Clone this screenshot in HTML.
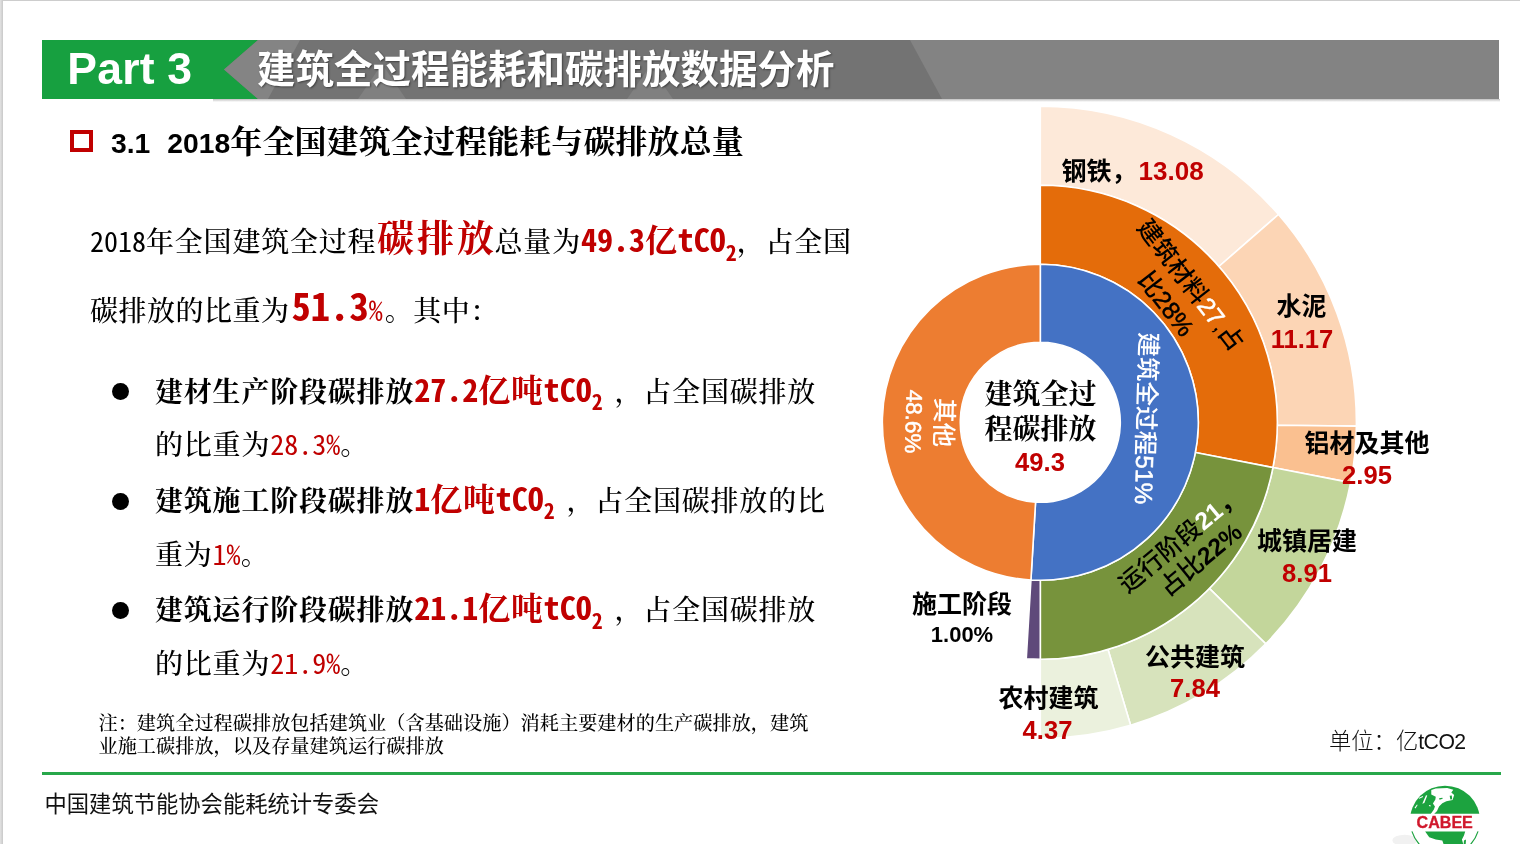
<!DOCTYPE html>
<html lang="zh-CN"><head><meta charset="utf-8"><title>建筑全过程能耗和碳排放数据分析</title>
<style>
html,body{margin:0;padding:0;background:#fff;}
body{width:1520px;height:844px;position:relative;overflow:hidden;font-family:"Liberation Sans","Noto Sans CJK SC",sans-serif;color:#000;}
.abs{position:absolute;white-space:nowrap;}
.kai{font-family:"Liberation Serif","Noto Serif CJK SC",serif;}
.ln{line-height:50px;font-size:28px;height:50px;font-weight:500;}
.ln span{line-height:0;}
.red{color:#C00000;}
.b{font-weight:700;}
.mono{font-family:"Noto Sans Mono CJK SC","Liberation Mono",monospace;letter-spacing:0;}
.sub{font-size:68%;position:relative;top:0.38em;}
svg text{font-family:"Liberation Sans","Noto Sans CJK SC",sans-serif;}
.ltw{stroke:#fff;stroke-width:0.5px;}
.ltk{stroke:#000;stroke-width:0.5px;}
</style></head><body>
<!-- page border -->
<div class="abs" style="left:0;top:0;width:1520px;height:1px;background:#cdcdcd"></div>
<div class="abs" style="left:0;top:0;width:3px;height:844px;background:linear-gradient(90deg,#dedede 0,#dedede 1.4px,#cdcdcd 1.6px,#cdcdcd 2.7px,#fff 3px)"></div>

<!-- header bar -->
<svg class="abs" style="left:0;top:0" width="1520" height="110" viewBox="0 0 1520 110">
  <defs><linearGradient id="sh" x1="0" y1="0" x2="0" y2="1"><stop offset="0" stop-color="#000" stop-opacity="0.25"/><stop offset="1" stop-color="#000" stop-opacity="0"/></linearGradient></defs>
  <rect x="213" y="99" width="1287" height="3" fill="url(#sh)"/>
  <rect x="42" y="40" width="220" height="59" fill="#17A040"/>
  <polygon points="224,69.5 258,40 1499,40 1499,99 258,99" fill="#737373"/>
  <polygon points="910,40 1499,40 1499,99 942,99" fill="#838383"/>
  <polygon points="224,69.5 258,40 300,40 268,99 258,99" fill="#848484"/>
  <polygon points="358,99 382,64 406,99" fill="#808080"/>
  <polygon points="627,99 650,66 673,99" fill="#808080"/>
</svg>
<div class="abs b" style="left:67.3px;top:38.6px;height:59px;line-height:59px;font-size:44.5px;color:#fff;letter-spacing:0.2px;">Part 3</div>
<div class="abs b" style="left:257px;top:41px;height:59px;line-height:57px;font-size:38.5px;color:#fff;text-shadow:1px 1px 2px rgba(0,0,0,0.45);">建筑全过程能耗和碳排放数据分析</div>

<!-- section heading -->
<div class="abs" style="left:70px;top:130px;width:14.8px;height:14.3px;border:4.4px solid #C00000;"></div>
<div class="abs b" style="left:111px;top:122px;line-height:40px;font-size:28.3px;"><span>3.1</span><span style="margin-left:17px">2018</span><span class="kai" style="font-size:32px;letter-spacing:0.1px">年全国建筑全过程能耗与碳排放总量</span></div>

<!-- paragraph and bullets -->
<div class="abs kai ln" style="left:90px;top:218.4px;letter-spacing:0.8px;"><span class="mono">2018</span>年全国建筑全过程<span class="red b" style="font-size:37px;letter-spacing:3px;margin-left:0.5px;margin-right:-2.4px">碳排放</span>总量为<span class="red mono b" style="font-size:32px">49.3</span><span class="red b" style="font-size:32px">亿</span><span class="red mono b" style="font-size:32px">tCO<span class="sub">2</span></span>，占全国</div>
<div class="abs kai ln" style="left:90px;top:286.9px;letter-spacing:0.5px;">碳排放的比重为<span style="margin-left:2px"></span><span class="red mono b" style="font-size:38.6px">51.3</span><span class="red mono" style="font-size:28px">%</span><span style="margin-left:2px"></span>。其中：</div>
<div class="abs kai ln" style="left:155px;top:367.8px;letter-spacing:0.8px;"><span class="b">建材生产阶段碳排放</span><span class="red mono b" style="font-size:32px">27.2</span><span class="red b" style="font-size:32px">亿吨</span><span class="red mono b" style="font-size:32px">tCO<span class="sub">2</span></span><span style="margin-left:4px"> ，</span>占全国碳排放</div>
<div class="abs kai ln" style="left:155px;top:420.7px;letter-spacing:0.8px;">的比重为<span class="red mono" style="font-size:28px">28.3%</span>。</div>
<div class="abs kai ln" style="left:155px;top:477.1px;letter-spacing:0.8px;"><span class="b">建筑施工阶段碳排放</span><span class="red mono b" style="font-size:32px">1</span><span class="red b" style="font-size:32px">亿吨</span><span class="red mono b" style="font-size:32px">tCO<span class="sub">2</span></span><span style="margin-left:4px"> ，</span>占全国碳排放的比</div>
<div class="abs kai ln" style="left:155px;top:530.5px;letter-spacing:0.8px;">重为<span class="red mono" style="font-size:28px">1%</span>。</div>
<div class="abs kai ln" style="left:155px;top:586.4px;letter-spacing:0.8px;"><span class="b">建筑运行阶段碳排放</span><span class="red mono b" style="font-size:32px">21.1</span><span class="red b" style="font-size:32px">亿吨</span><span class="red mono b" style="font-size:32px">tCO<span class="sub">2</span></span><span style="margin-left:4px"> ，</span>占全国碳排放</div>
<div class="abs kai ln" style="left:155px;top:639.9px;letter-spacing:0.8px;">的比重为<span class="red mono" style="font-size:28px">21.9%</span>。</div>
<div class="abs" style="left:112.3px;top:383.4px;width:16.8px;height:16.8px;border-radius:50%;background:#000"></div><div class="abs" style="left:112.3px;top:492.8px;width:16.8px;height:16.8px;border-radius:50%;background:#000"></div><div class="abs" style="left:112.3px;top:602.2px;width:16.8px;height:16.8px;border-radius:50%;background:#000"></div>

<!-- note -->
<div class="abs kai" style="left:98.5px;top:711.8px;line-height:23.3px;font-size:19.2px;color:#000;font-weight:500;">注：建筑全过程碳排放包括建筑业（含基础设施）消耗主要建材的生产碳排放，建筑<br>业施工碳排放，以及存量建筑运行碳排放</div>

<!-- footer -->
<div class="abs" style="left:42px;top:771.7px;width:1459px;height:3.6px;background:#27A74A"></div>
<div class="abs" style="left:44.5px;top:789.5px;line-height:30px;font-size:22.3px;font-weight:400;color:#111;">中国建筑节能协会能耗统计专委会</div>

<!-- chart -->
<svg class="abs" style="left:0;top:0" width="1520" height="844" viewBox="0 0 1520 844">
<path d="M1040.30,106.20 A316.1,316.1 0 0 1 1278.50,214.50 L1218.89,266.50 A237,237 0 0 0 1040.30,185.30 Z" fill="#FDE9D9" stroke="#fff" stroke-width="1.6" stroke-linejoin="round"/>
<path d="M1278.50,214.50 A316.1,316.1 0 0 1 1356.38,426.16 L1277.28,425.20 A237,237 0 0 0 1218.89,266.50 Z" fill="#FCD5B5" stroke="#fff" stroke-width="1.6" stroke-linejoin="round"/>
<path d="M1356.38,426.16 A316.1,316.1 0 0 1 1350.59,482.61 L1272.95,467.52 A237,237 0 0 0 1277.28,425.20 Z" fill="#FAC090" stroke="#fff" stroke-width="1.6" stroke-linejoin="round"/>
<path d="M1350.59,482.61 A316.1,316.1 0 0 1 1265.76,643.86 L1209.34,588.42 A237,237 0 0 0 1272.95,467.52 Z" fill="#C3D69B" stroke="#fff" stroke-width="1.6" stroke-linejoin="round"/>
<path d="M1265.76,643.86 A316.1,316.1 0 0 1 1130.61,725.23 L1108.01,649.42 A237,237 0 0 0 1209.34,588.42 Z" fill="#D7E3BC" stroke="#fff" stroke-width="1.6" stroke-linejoin="round"/>
<path d="M1130.61,725.23 A316.1,316.1 0 0 1 1040.30,738.40 L1040.30,659.30 A237,237 0 0 0 1108.01,649.42 Z" fill="#EBF1DD" stroke="#fff" stroke-width="1.6" stroke-linejoin="round"/>
<path d="M1040.30,185.30 A237,237 0 0 1 1272.95,467.52 L1195.40,452.45 A158,158 0 0 0 1040.30,264.30 Z" fill="#E46C0A" stroke="#fff" stroke-width="1.6" stroke-linejoin="round"/>
<path d="M1272.95,467.52 A237,237 0 0 1 1040.30,659.30 L1040.30,580.30 A158,158 0 0 0 1195.40,452.45 Z" fill="#77933C" stroke="#fff" stroke-width="1.6" stroke-linejoin="round"/>
<path d="M1040.30,659.30 A237,237 0 0 1 1026.24,658.88 L1030.93,580.02 A158,158 0 0 0 1040.30,580.30 Z" fill="#5F497A" stroke="#fff" stroke-width="1.6" stroke-linejoin="round"/>
<path d="M1040.30,264.30 A158,158 0 1 1 1030.93,580.02 L1035.56,502.16 A80,80 0 1 0 1040.30,342.30 Z" fill="#4472C4" stroke="#fff" stroke-width="1.6" stroke-linejoin="round"/>
<path d="M1030.93,580.02 A158,158 0 0 1 1040.30,264.30 L1040.30,342.30 A80,80 0 0 0 1035.56,502.16 Z" fill="#ED7D31" stroke="#fff" stroke-width="1.6" stroke-linejoin="round"/>
<g font-size="24.6" font-weight="500" text-anchor="middle">
  <g transform="translate(1159.2,425.8) rotate(91.7)"><text x="-7" y="22" fill="#fff">建筑全过程<tspan class="ltw">51%</tspan></text></g>
  <g transform="translate(921.4,418.8) rotate(91.7)"><text x="3" y="-14" fill="#fff">其他</text><text x="3" y="15.5" fill="#fff" font-size="22.4" class="ltw">48.6%</text></g>
  <g transform="translate(1192.7,296.7) rotate(52.5)"><text x="-10.5" y="3" fill="#000">建筑材料<tspan fill="#fff" class="ltw">27</tspan>,占</text><text x="-10.5" y="34" fill="#000">比<tspan class="ltk">28%</tspan></text></g>
  <g transform="translate(1189.4,550.7) rotate(-39.5)"><text x="0" y="-6" fill="#000">运行阶段<tspan fill="#fff" font-weight="700">21</tspan><tspan font-weight="700">，</tspan></text><text x="3" y="22.5" fill="#000">占比<tspan font-weight="700">22%</tspan></text></g>
</g>
<g font-size="28" text-anchor="middle">
  <text x="1040.5" y="404" style="font-family:'Liberation Serif','Noto Serif CJK SC',serif;font-weight:700">建筑全过</text>
  <text x="1040.5" y="439" style="font-family:'Liberation Serif','Noto Serif CJK SC',serif;font-weight:700">程碳排放</text>
</g>
<g font-weight="700" text-anchor="middle" font-size="25.6">
  <text x="1040" y="470.5" fill="#C00000">49.3</text>
  <text x="1061.5" y="180" text-anchor="start" font-size="25">钢铁，</text><text x="1138.6" y="180" text-anchor="start" fill="#C00000" font-size="26">13.08</text>
  <text x="1301.5" y="315" font-size="25">水泥</text>
  <text x="1302" y="347.5" fill="#C00000">11.17</text>
  <text x="1367" y="451.5" font-size="25">铝材及其他</text>
  <text x="1367" y="484" fill="#C00000">2.95</text>
  <text x="1307" y="550" font-size="25">城镇居建</text>
  <text x="1307" y="582" fill="#C00000">8.91</text>
  <text x="1195" y="666" font-size="25">公共建筑</text>
  <text x="1195" y="697" fill="#C00000">7.84</text>
  <text x="1048.5" y="707" font-size="25">农村建筑</text>
  <text x="1047.5" y="738.5" fill="#C00000">4.37</text>
  <text x="962" y="612.5" font-size="25">施工阶段</text>
  <text x="962" y="642" font-size="22">1.00%</text>
</g>
<text x="1329" y="749" font-size="22.3" font-weight="300" fill="#111">单位：亿<tspan font-size="21.2" letter-spacing="-0.5">tCO2</tspan></text>
<!-- logo -->
<g transform="translate(1390,775) scale(0.081746)">
  <clipPath id="lgc"><circle cx="672.5" cy="558" r="428"/></clipPath>
  <clipPath id="lgt"><rect x="200" y="100" width="950" height="375"/></clipPath>
  <ellipse cx="180" cy="800" rx="150" ry="70" fill="#f1f1f1"/>
  <g clip-path="url(#lgt)"><circle cx="672.5" cy="558" r="428" fill="#1CA33F"/></g>
  <path d="M505,185 L560,165 L700,160 L775,180 L750,215 L785,245 L765,305 L690,322 L640,345 L600,385 L575,440 L540,476 L498,476 L535,425 L550,385 L525,350 L555,300 L560,265 L505,240 Z" fill="#fff"/>
  <path d="M395,352 L440,248 L456,250 L420,342 Z M350,280 L400,258 L404,268 L358,292 Z M478,366 L500,372 L496,384 L476,378 Z M300,400 L330,360 L338,368 L312,410 Z" fill="#fff"/>
  <path d="M600,285 L640,278 L645,292 L606,302 Z M730,255 L756,250 L760,296 L738,300 Z M640,400 L656,396 L660,432 L644,436 Z" fill="#1CA33F"/>
  <g clip-path="url(#lgc)">
    <path d="M430,690 L920,690 L905,740 L880,790 L900,860 L660,860 L640,800 L560,790 L480,760 Z M905,800 L930,790 L925,860 L900,860 Z" fill="#1CA33F"/>
  </g>
  <path d="M268,690 A428,428 0 0 0 372,862 M1077,690 A428,428 0 0 1 973,862" fill="none" stroke="#1CA33F" stroke-width="14"/>
</g>
<text x="1444.7" y="827.8" font-size="16.1" font-weight="700" fill="#D0182C" stroke="#D0182C" stroke-width="0.3" text-anchor="middle" style="font-family:'Liberation Sans',sans-serif">CABEE</text>
</svg>
</body></html>
